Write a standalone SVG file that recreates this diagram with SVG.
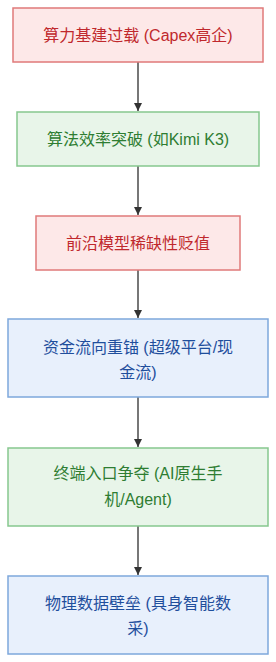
<svg xmlns="http://www.w3.org/2000/svg" width="276" height="662" viewBox="0 0 276 662">
<defs>
<marker id="arr" viewBox="0 0 10 10" refX="10" refY="5" markerWidth="8" markerHeight="8" markerUnits="userSpaceOnUse" orient="auto">
<path d="M0,0 L10,5 L0,10 z" fill="#333"/>
</marker>
<style>
text{font-family:"Liberation Sans","Noto Sans CJK SC",sans-serif;font-size:16px;text-anchor:middle}
.red rect{fill:#fde8e8;stroke:#e07a7a;stroke-width:1.5}
.red text{fill:#c0282d}
.green rect{fill:#e8f5e9;stroke:#86c78e;stroke-width:1.5}
.green text{fill:#2e7d32}
.blue rect{fill:#e8f0fc;stroke:#7ea8dc;stroke-width:1.5}
.blue text{fill:#1f4e9c}
.edge{stroke:#777;stroke-width:2;fill:none;marker-end:url(#arr)}
</style>
</defs>
<g id="connectors">
<line class="edge" x1="138" y1="62" x2="138" y2="111"/>
<line class="edge" x1="138" y1="166" x2="138" y2="215"/>
<line class="edge" x1="138" y1="270" x2="138" y2="318"/>
<line class="edge" x1="138" y1="397" x2="138" y2="447"/>
<line class="edge" x1="138" y1="526" x2="138" y2="575"/>
</g>
<g id="n1" class="red">
<rect x="13" y="8" width="250" height="54"/>
<text x="138" y="40.5">算力基建过载 (Capex高企)</text>
</g>
<g id="n2" class="green">
<rect x="17" y="112" width="242" height="54"/>
<text x="138" y="145">算法效率突破 (如Kimi K3)</text>
</g>
<g id="n3" class="red">
<rect x="36" y="216" width="204" height="54"/>
<text x="138" y="248.5">前沿模型稀缺性贬值</text>
</g>
<g id="n4" class="blue">
<rect x="8" y="319" width="260" height="78"/>
<text x="138" y="352.5">资金流向重锚 (超级平台/现</text>
<text x="138" y="377.5">金流)</text>
</g>
<g id="n5" class="green">
<rect x="8" y="448" width="260" height="78"/>
<text x="138" y="479">终端入口争夺 (AI原生手</text>
<text x="138" y="504.5">机/Agent)</text>
</g>
<g id="n6" class="blue">
<rect x="8" y="576" width="260" height="78"/>
<text x="138" y="609">物理数据壁垒 (具身智能数</text>
<text x="138" y="633.5">采)</text>
</g>
</svg>
